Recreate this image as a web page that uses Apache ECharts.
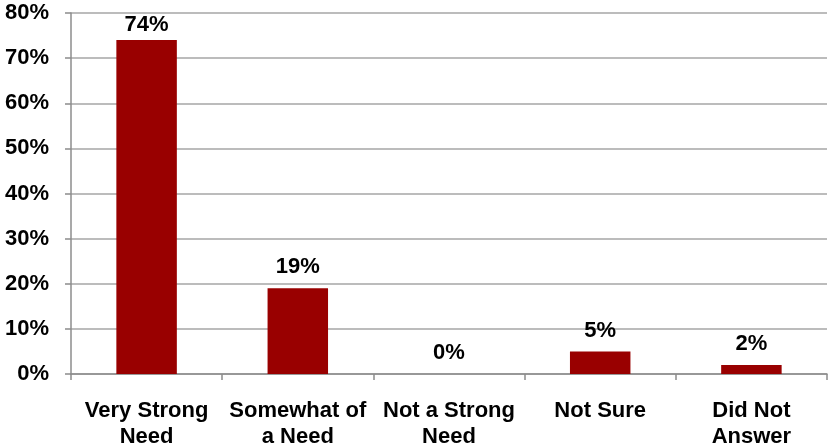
<!DOCTYPE html>
<html>
<head>
<meta charset="utf-8">
<script src="https://cdn.jsdelivr.net/npm/echarts@6/dist/echarts.min.js"></script>
<style>
  html, body { margin: 0; padding: 0; background: #fff; }
  #chart { width: 828px; height: 445px; }
</style>
</head>
<body>
<div id="chart"></div>
<script>
  // categories and values
  const categories = ['Very Strong\nNeed', 'Somewhat of\na Need', 'Not a Strong\nNeed', 'Not Sure', 'Did Not\nAnswer']
  const values = [74, 19, 0, 5, 2]

  const chart = echarts.init(document.getElementById('chart'))
  const font = '"Liberation Sans", Arial, sans-serif'
  // the tallest bar's label is pulled in so it stays inside the plot
  const barData = values.map(function (v) {
    return v > 70 ? { value: v, label: { distance: 4 } } : v
  })
  chart.setOption({
    animation: false,
    grid: { left: 71, right: 1, top: 13, bottom: 71, outerBoundsMode: 'none' },
    xAxis: {
      type: 'category',
      data: categories,
      axisLine: { lineStyle: { color: '#8c8c8c', width: 1.5 } },
      axisTick: { show: true, length: 6, lineStyle: { color: '#8c8c8c', width: 1.5 } },
      axisLabel: {
        margin: 24,
        color: '#000',
        fontFamily: font,
        fontWeight: 'bold',
        fontSize: 22,
        lineHeight: 26,
        interval: 0
      }
    },
    yAxis: {
      type: 'value',
      min: 0,
      max: 80,
      interval: 10,
      axisLine: { show: true, lineStyle: { color: '#8c8c8c', width: 1.5 } },
      axisTick: { show: true, length: 6, lineStyle: { color: '#8c8c8c', width: 1.5 } },
      splitLine: { lineStyle: { color: '#a6a6a6', width: 1.5 } },
      axisLabel: {
        margin: 22,
        color: '#000',
        fontFamily: font,
        fontWeight: 'bold',
        fontSize: 22,
        formatter: '{value}%'
      }
    },
    series: [{
      type: 'bar',
      data: barData,
      barWidth: '40%',
      itemStyle: { color: '#990000' },
      label: {
        show: true,
        position: 'top',
        distance: 10,
        color: '#000',
        fontFamily: font,
        fontWeight: 'bold',
        fontSize: 22,
        formatter: '{c}%'
      }
    }]
  })
</script>
</body>
</html>
